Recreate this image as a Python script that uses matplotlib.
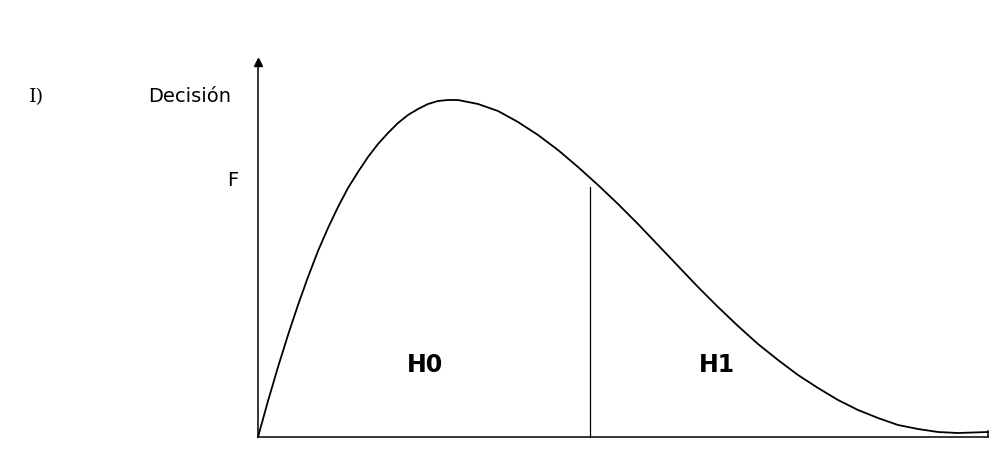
import numpy as np
import matplotlib
matplotlib.use("Agg")
import matplotlib.pyplot as plt

# curve (x from the origin, height above the x axis)
curve_x = [0, 10, 20, 30, 40, 50, 60, 70, 80, 90, 100, 110, 120, 130, 140,
           150, 160, 170, 180, 190, 200, 210, 220, 240, 260, 280, 300, 320,
           340, 360, 380, 400, 420, 440, 460, 480, 500, 520, 540, 560, 580,
           600, 620, 640, 660, 680, 700, 730]
curve_h = [0, 36, 70, 102, 132, 160, 186, 209, 230, 249, 265, 280, 293, 304,
           314, 322, 328, 333, 336, 337, 337, 335, 333, 326, 315, 302, 287,
           270, 252, 233, 213, 192, 171, 150, 130, 111, 93, 77, 62, 49, 37,
           27, 19, 12, 8, 5, 4, 5]
# umbral de decision
umbral_x = 332
umbral_h = 250
eje_y_top = 375
eje_x_end = 730

fig = plt.figure(figsize=(9.9, 4.55), dpi=100)
ax = fig.add_axes([0, 0, 1, 1])
ax.set_xlim(-258, 732)
ax.set_ylim(-18, 437)

# ejes
for s in ['top', 'right']:
    ax.spines[s].set_visible(False)
ax.spines['left'].set_position(('data', 0))
ax.spines['bottom'].set_position(('data', 0))
ax.spines['left'].set_bounds(0, eje_y_top)
ax.spines['bottom'].set_bounds(0, eje_x_end)
ax.spines['left'].set_linewidth(1.1)
ax.spines['bottom'].set_linewidth(1.1)
ax.set_xticks([])
ax.set_yticks([])
ax.plot([0], [eje_y_top], marker='^', color='k', markersize=6, clip_on=False)
ax.plot([eje_x_end, eje_x_end], [0, 6], color='k', lw=1.1)

# curva y umbral
ax.plot(curve_x, curve_h, color='k', lw=1.3, solid_joinstyle='round')
ax.plot([umbral_x, umbral_x], [0, umbral_h], color='k', lw=0.9)

# textos
ax.text(-221, 340, 'I)', fontsize=14, family='DejaVu Serif', ha='center', va='center')
ax.text(-68, 340, 'Decisión', fontsize=14, ha='center', va='center')
ax.text(-25, 257, 'F', fontsize=14, ha='center', va='center')
ax.text(167, 72, 'H0', fontsize=17, fontweight='bold', ha='center', va='center')
ax.text(459, 72, 'H1', fontsize=17, fontweight='bold', ha='center', va='center')

plt.savefig('out.png', dpi=100)
